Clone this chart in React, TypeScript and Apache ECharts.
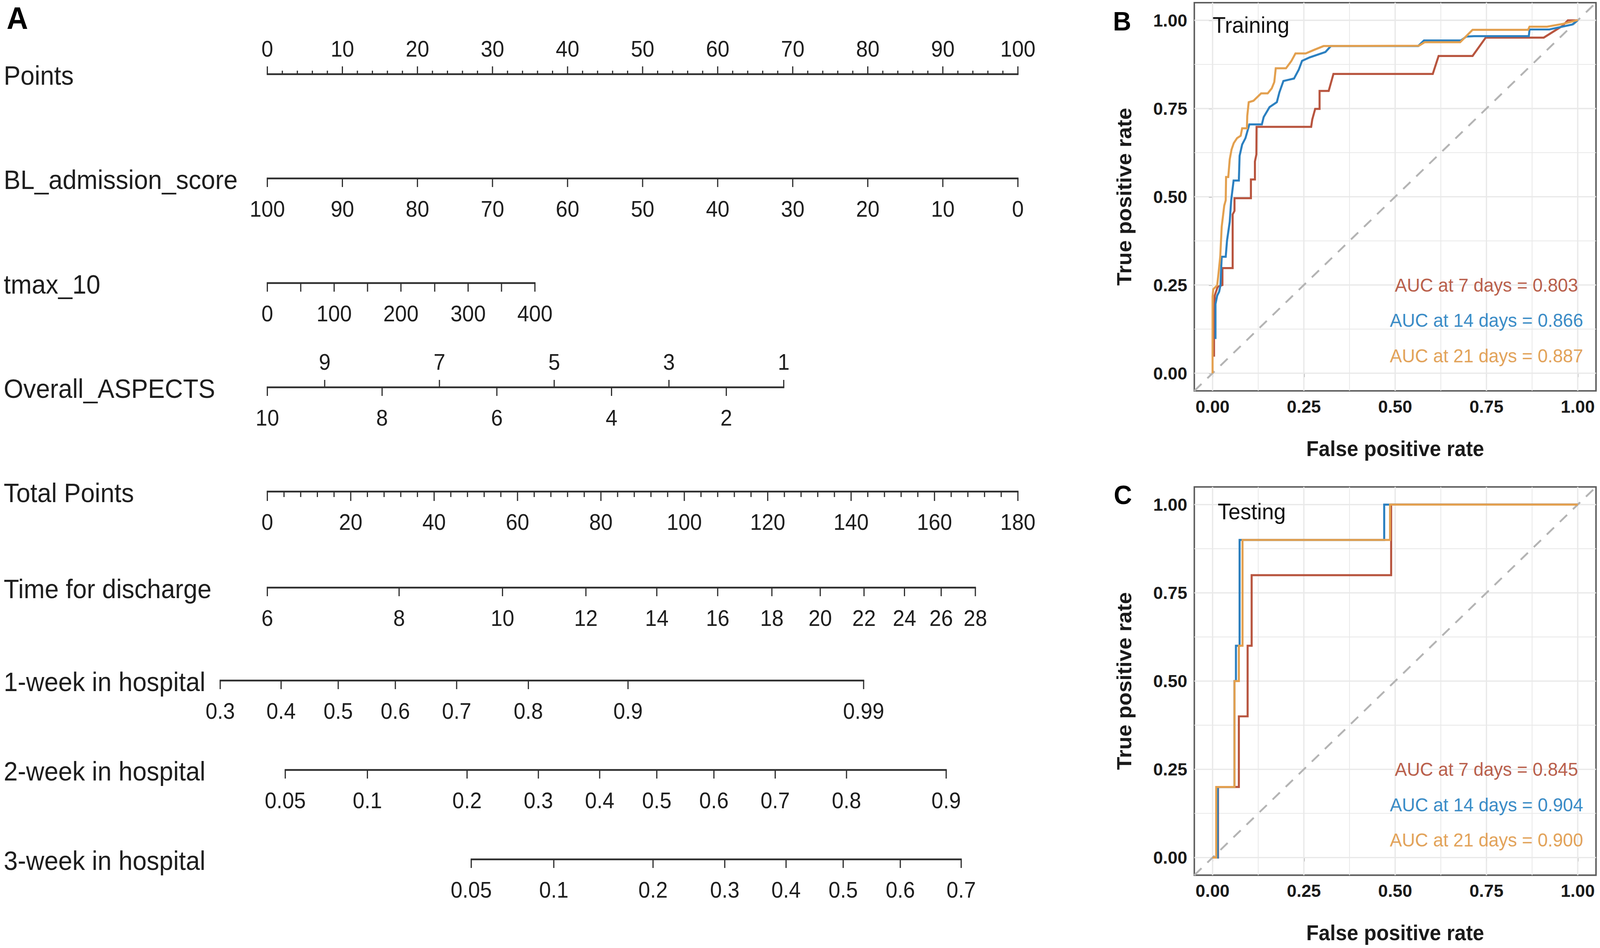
import React, { useEffect, useRef } from "react";
import * as echarts from "echarts";

// ---------------- Nomogram data ----------------
const POINTS_LABELS = [0, 10, 20, 30, 40, 50, 60, 70, 80, 90, 100];
const POINTS_MINOR_STEP = 2;

const BL_VALUES = [100, 90, 80, 70, 60, 50, 40, 30, 20, 10, 0];
const BL_POINTS = [0, 10, 20, 30, 40, 50, 60, 70, 80, 90, 100];

const TMAX_VALUES = [0, 50, 100, 150, 200, 250, 300, 350, 400];
const TMAX_LABELED = [0, 100, 200, 300, 400];
const TMAX_POINTS = [0, 4.45, 8.9, 13.35, 17.8, 22.3, 26.75, 31.2, 35.65];

const ASPECTS_VALUES = [10, 9, 8, 7, 6, 5, 4, 3, 2, 1];
const ASPECTS_POINTS = [0, 7.64, 15.29, 22.93, 30.58, 38.22, 45.86, 53.51, 61.15, 68.8];

const TOTAL_LABELS = [0, 20, 40, 60, 80, 100, 120, 140, 160, 180];
const TOTAL_MINOR_STEP = 4;

const DISCHARGE_VALUES = [6, 8, 10, 12, 14, 16, 18, 20, 22, 24, 26, 28];
const DISCHARGE_TOTAL = [0, 31.6, 56.4, 76.4, 93.4, 108.0, 121.0, 132.6, 143.1, 152.8, 161.6, 169.8];

const WEEK1_LABELS = ["0.3", "0.4", "0.5", "0.6", "0.7", "0.8", "0.9", "0.99"];
const WEEK1_TOTAL = [-11.3, 3.3, 17.0, 30.7, 45.4, 62.6, 86.5, 143.0];

const WEEK2_LABELS = ["0.05", "0.1", "0.2", "0.3", "0.4", "0.5", "0.6", "0.7", "0.8", "0.9"];
const WEEK2_TOTAL = [4.3, 24.0, 47.9, 65.0, 79.7, 93.4, 107.1, 121.8, 138.9, 162.8];

const WEEK3_LABELS = ["0.05", "0.1", "0.2", "0.3", "0.4", "0.5", "0.6", "0.7"];
const WEEK3_TOTAL = [48.9, 68.7, 92.5, 109.7, 124.4, 138.1, 151.8, 166.4];

// ---------------- ROC data ----------------
const ROC_TICKS = [0, 0.25, 0.5, 0.75, 1];
const ROC_MINOR = [0.125, 0.375, 0.625, 0.875];
const DAYS = [7, 14, 21];
const AUC_TRAIN = [0.803, 0.866, 0.887];
const AUC_TEST = [0.845, 0.904, 0.9];
const AUC_LABEL_X = 0.75;
const AUC_LABEL_Y = [0.25, 0.15, 0.05];

const TRAIN_7 = [
  [0.004, 0.047], [0.004, 0.15], [0.006, 0.22], [0.014, 0.245], [0.027, 0.25], [0.027, 0.298],
  [0.055, 0.298], [0.055, 0.45], [0.06, 0.46], [0.06, 0.496], [0.105, 0.496], [0.105, 0.549],
  [0.116, 0.549], [0.116, 0.6], [0.12, 0.62], [0.1205, 0.698], [0.27, 0.698], [0.273, 0.719],
  [0.281, 0.749], [0.293, 0.749], [0.293, 0.8], [0.318, 0.8], [0.331, 0.848], [0.603, 0.848],
  [0.619, 0.899], [0.712, 0.899], [0.748, 0.951], [0.907, 0.951], [0.958, 0.984], [0.973, 1.0], [1.0, 1.0],
];
const TRAIN_14 = [
  [0.008, 0.097], [0.008, 0.196], [0.0126, 0.22], [0.018, 0.231], [0.0216, 0.249], [0.025, 0.33],
  [0.036, 0.33], [0.0396, 0.376], [0.047, 0.429], [0.051, 0.49], [0.0576, 0.546], [0.072, 0.546],
  [0.074, 0.616], [0.081, 0.648], [0.09, 0.666], [0.1007, 0.705], [0.135, 0.705], [0.14, 0.726],
  [0.156, 0.754], [0.176, 0.768], [0.183, 0.796], [0.194, 0.828], [0.223, 0.835], [0.236, 0.86],
  [0.245, 0.885], [0.266, 0.895], [0.309, 0.91], [0.324, 0.927], [0.563, 0.927], [0.579, 0.943],
  [0.68, 0.943], [0.695, 0.954], [0.716, 0.955], [0.866, 0.955], [0.868, 0.974], [0.922, 0.974],
  [0.985, 0.988], [1.0, 1.0],
];
const TRAIN_21 = [
  [0, 0], [0, 0.217], [0.002, 0.238], [0.0126, 0.249], [0.016, 0.28], [0.021, 0.33], [0.025, 0.415],
  [0.032, 0.475], [0.036, 0.49], [0.037, 0.556], [0.043, 0.556], [0.047, 0.606], [0.052, 0.634],
  [0.058, 0.652], [0.067, 0.666], [0.077, 0.673], [0.081, 0.694], [0.094, 0.694], [0.095, 0.729],
  [0.099, 0.768], [0.112, 0.772], [0.133, 0.793], [0.151, 0.793], [0.162, 0.807], [0.169, 0.825],
  [0.173, 0.864], [0.201, 0.864], [0.216, 0.885], [0.227, 0.906], [0.255, 0.906], [0.28, 0.917],
  [0.304, 0.927], [0.565, 0.928], [0.581, 0.938], [0.678, 0.938], [0.712, 0.973], [0.864, 0.973],
  [0.868, 0.982], [0.916, 0.982], [0.96, 0.99], [0.997, 1.0], [1.0, 1.0],
];
const TEST_7 = [
  [0, 0], [0.015, 0], [0.015, 0.2], [0.072, 0.2], [0.072, 0.4], [0.096, 0.4], [0.096, 0.6],
  [0.107, 0.6], [0.107, 0.8], [0.489, 0.8], [0.489, 1.0], [1.0, 1.0],
];
const TEST_14 = [
  [0, 0], [0.014, 0], [0.014, 0.2], [0.06, 0.2], [0.06, 0.5], [0.064, 0.5], [0.064, 0.6],
  [0.074, 0.6], [0.074, 0.9], [0.47, 0.9], [0.47, 1.0], [1.0, 1.0],
];
const TEST_21 = [
  [0, 0], [0.01, 0], [0.01, 0.2], [0.06, 0.2], [0.06, 0.5], [0.072, 0.5], [0.072, 0.6],
  [0.082, 0.6], [0.082, 0.9], [0.486, 0.9], [0.486, 1.0], [1.0, 1.0],
];

// ---------------- Layout and styles (in reference pixels, scaled to the viewport) ----------------
const W = 4317;
const H = 2428;
let SX = 1;
let SY = 1;
const sx = (v: number) => v * SX;
const sy = (v: number) => v * SY;
const sf = (v: number) => v * SX; // stroke widths and axis-label fonts
const tf = (v: number) => v * SY; // font size of free texts (width then squeezed by KX)
const KX = () => SX / SY;

const FONT = '"Liberation Sans", Arial, Helvetica, sans-serif';
const INK = "#1e1e1e";
const AXIS_INK = "#2e2e2e";
const CURVE_COLORS = ["#B8553F", "#2C80C0", "#E3A04F"];
const TEXT_COLORS = ["#B9604C", "#3B8CC6", "#E2A35A"];

const NOMO_LEFT = 721.3;
const NOMO_WIDTH = 2025.1;
const ROW_Y: Record<string, number> = {
  points: 190, bl: 457, tmax: 725, aspects: 992, total: 1259,
  discharge: 1505, week1: 1743, week2: 1972, week3: 2201,
};
const LABEL_ABOVE = -64;
const LABEL_BELOW = 79;
const NOMO_TICK_FONT = 57;
const NOMO_NAME_FONT = 68;

const ROC_MIN = -0.05;
const ROC_MAX = 1.05;
const ROC_LEFT = 3222.4;
const ROC_WIDTH = 1083.8;
const ROC_B_TOP = 6.8;
const ROC_C_TOP = 1247.2;
const ROC_HEIGHT = 994.3;

type Tick = { pos: number; label: string; dir: number; len: number; side: number };
type Row = { key: string; name: string; axis: number; ticks: Tick[] };

function buildRows(): Row[] {
  const rows: Row[] = [];
  const pt: Tick[] = [];
  const pMax = POINTS_LABELS[POINTS_LABELS.length - 1];
  for (let v = POINTS_LABELS[0]; v <= pMax + 1e-9; v += POINTS_MINOR_STEP) {
    const major = POINTS_LABELS.indexOf(v) >= 0;
    pt.push({ pos: v, label: major ? String(v) : "", dir: -1, len: major ? 20 : 9, side: -1 });
  }
  rows.push({ key: "points", name: "Points", axis: 0, ticks: pt });
  rows.push({
    key: "bl", name: "BL_admission_score", axis: 0,
    ticks: BL_VALUES.map((v, i) => ({ pos: BL_POINTS[i], label: String(v), dir: 1, len: 22, side: 1 })),
  });
  rows.push({
    key: "tmax", name: "tmax_10", axis: 0,
    ticks: TMAX_VALUES.map((v, i) => ({
      pos: TMAX_POINTS[i], label: TMAX_LABELED.indexOf(v) >= 0 ? String(v) : "", dir: 1, len: 22, side: 1,
    })),
  });
  rows.push({
    key: "aspects", name: "Overall_ASPECTS", axis: 0,
    ticks: ASPECTS_VALUES.map((v, i) => {
      const odd = v % 2 === 1;
      return { pos: ASPECTS_POINTS[i], label: String(v), dir: odd ? -1 : 1, len: odd ? 19 : 22, side: odd ? -1 : 1 };
    }),
  });
  const tt: Tick[] = [];
  const tMax = TOTAL_LABELS[TOTAL_LABELS.length - 1];
  for (let v = TOTAL_LABELS[0]; v <= tMax + 1e-9; v += TOTAL_MINOR_STEP) {
    const major = TOTAL_LABELS.indexOf(v) >= 0;
    tt.push({ pos: v, label: major ? String(v) : "", dir: 1, len: major ? 24 : 14, side: 1 });
  }
  rows.push({ key: "total", name: "Total Points", axis: 1, ticks: tt });
  rows.push({
    key: "discharge", name: "Time for discharge", axis: 1,
    ticks: DISCHARGE_VALUES.map((v, i) => ({ pos: DISCHARGE_TOTAL[i], label: String(v), dir: 1, len: 22, side: 1 })),
  });
  rows.push({
    key: "week1", name: "1-week in hospital", axis: 1,
    ticks: WEEK1_LABELS.map((l, i) => ({ pos: WEEK1_TOTAL[i], label: l, dir: 1, len: 22, side: 1 })),
  });
  rows.push({
    key: "week2", name: "2-week in hospital", axis: 1,
    ticks: WEEK2_LABELS.map((l, i) => ({ pos: WEEK2_TOTAL[i], label: l, dir: 1, len: 22, side: 1 })),
  });
  rows.push({
    key: "week3", name: "3-week in hospital", axis: 1,
    ticks: WEEK3_LABELS.map((l, i) => ({ pos: WEEK3_TOTAL[i], label: l, dir: 1, len: 22, side: 1 })),
  });
  return rows;
}

function rowSeries(row: Row) {
  const positions = row.ticks.map((t) => t.pos);
  const lo = Math.min(...positions);
  const hi = Math.max(...positions);
  const y = sy(ROW_Y[row.key]);
  return {
    type: "custom",
    xAxisIndex: row.axis,
    yAxisIndex: 0,
    clip: false,
    silent: true,
    data: row.ticks.map((t) => [t.pos, 0]),
    renderItem: (params: any, api: any) => {
      const t = row.ticks[params.dataIndex];
      const x = api.coord([api.value(0), 0])[0];
      const children: any[] = [
        {
          type: "line",
          shape: { x1: x, y1: y, x2: x, y2: y + t.dir * sy(t.len) },
          style: { stroke: AXIS_INK, lineWidth: sf(3.2) },
        },
      ];
      if (t.label) {
        children.push({
          type: "text",
          x,
          y: y + sy(t.side < 0 ? LABEL_ABOVE : LABEL_BELOW),
          scaleX: KX(),
          style: {
            text: t.label, fill: INK, fontSize: tf(NOMO_TICK_FONT), fontFamily: FONT,
            align: "center", verticalAlign: "middle",
          },
        });
      }
      if (params.dataIndex === 0) {
        const xa = api.coord([lo, 0])[0];
        const xb = api.coord([hi, 0])[0];
        children.push({
          type: "line",
          shape: { x1: xa - sf(1.6), y1: y, x2: xb + sf(1.6), y2: y },
          style: { stroke: AXIS_INK, lineWidth: sf(4.5) },
        });
      }
      return { type: "group", children };
    },
  };
}

function rocAxes(gridIndex: number, isX: boolean) {
  return {
    type: "value",
    gridIndex,
    min: ROC_MIN,
    max: ROC_MAX,
    axisLine: { show: false },
    axisTick: {
      show: true, customValues: ROC_TICKS, length: isX ? sy(10) : sx(10),
      lineStyle: { color: AXIS_INK, width: sf(3) },
    },
    axisLabel: {
      show: true,
      customValues: ROC_TICKS,
      formatter: (v: number) => v.toFixed(2),
      fontSize: Math.sqrt(SX * SY) * 46,
      fontWeight: "bold",
      fontFamily: FONT,
      color: "#1a1a1a",
      margin: isX ? sy(17) : sx(19),
    },
    splitLine: { show: false },
    minorTick: { show: false },
    minorSplitLine: { show: false },
  };
}

function gridSeries(xi: number, yi: number) {
  const items = [...ROC_TICKS.map((v) => [v, 1]), ...ROC_MINOR.map((v) => [v, 0])];
  return {
    type: "custom",
    xAxisIndex: xi,
    yAxisIndex: yi,
    silent: true,
    z: 1,
    data: items,
    renderItem: (params: any, api: any) => {
      const v = api.value(0);
      const major = api.value(1) === 1;
      const a = api.coord([v, ROC_MIN]);
      const b = api.coord([v, ROC_MAX]);
      const c = api.coord([ROC_MIN, v]);
      const d = api.coord([ROC_MAX, v]);
      const style = { stroke: "#e9e9e9", lineWidth: sf(major ? 3.5 : 2.2) };
      return {
        type: "group",
        children: [
          { type: "line", shape: { x1: a[0], y1: a[1], x2: b[0], y2: b[1] }, style },
          { type: "line", shape: { x1: c[0], y1: c[1], x2: d[0], y2: d[1] }, style },
        ],
      };
    },
  };
}

function annotationSeries(xi: number, yi: number, aucs: number[], title: string, titlePos: number[]) {
  const labels = aucs.map((a, i) => `AUC at ${DAYS[i]} days = ${a.toFixed(3)}`);
  const data = [...AUC_LABEL_Y.map((y) => [AUC_LABEL_X, y]), titlePos];
  return {
    type: "custom",
    xAxisIndex: xi,
    yAxisIndex: yi,
    silent: true,
    clip: false,
    z: 6,
    data,
    renderItem: (params: any, api: any) => {
      const p = api.coord([api.value(0), api.value(1)]);
      const i = params.dataIndex;
      if (i < labels.length) {
        return {
          type: "text",
          x: p[0],
          y: p[1],
          scaleX: KX(),
          style: {
            text: labels[i], fill: TEXT_COLORS[i], fontSize: tf(49), fontFamily: FONT,
            align: "center", verticalAlign: "middle",
          },
        };
      }
      return {
        type: "text",
        x: p[0],
        y: p[1],
        scaleX: KX(),
        style: { text: title, fill: "#111111", fontSize: tf(58), fontFamily: FONT, align: "left", verticalAlign: "middle" },
      };
    },
  };
}

function curveSeries(xi: number, yi: number, data: number[][], color: string, z: number) {
  return {
    type: "line",
    xAxisIndex: xi,
    yAxisIndex: yi,
    data,
    symbol: "none",
    showSymbol: false,
    silent: true,
    z,
    lineStyle: { color, width: sf(5.5), cap: "butt", join: "miter" },
  };
}

function diagSeries(xi: number, yi: number) {
  return {
    type: "line",
    xAxisIndex: xi,
    yAxisIndex: yi,
    data: [[ROC_MIN, ROC_MIN], [ROC_MAX, ROC_MAX]],
    symbol: "none",
    silent: true,
    z: 2,
    lineStyle: { color: "#b4b4b4", width: sf(5), type: [sf(27), sf(22)] },
  };
}

function buildOption() {
  const rows = buildRows();
  const rowNames = rows.map((r) => ({
    type: "text",
    x: sx(10),
    y: sy(ROW_Y[r.key] + 3),
    scaleX: KX(),
    style: {
      text: r.name, fill: INK, fontSize: tf(NOMO_NAME_FONT), fontFamily: FONT,
      align: "left", verticalAlign: "middle",
    },
  }));
  const letters = [
    { t: "A", x: 18, y: 46, s: 80 },
    { t: "B", x: 3003, y: 54, s: 68 },
    { t: "C", x: 3005, y: 1267, s: 68 },
  ].map((l) => ({
    type: "text",
    x: sx(l.x),
    y: sy(l.y),
    scaleX: KX(),
    style: {
      text: l.t, fill: "#000", fontSize: tf(l.s), fontWeight: "bold", fontFamily: FONT,
      align: "left", verticalAlign: "middle",
    },
  }));
  const axisTitles: any[] = [];
  [ROC_B_TOP, ROC_C_TOP].forEach((top) => {
    axisTitles.push({
      type: "text",
      x: sx(ROC_LEFT + ROC_WIDTH / 2),
      y: sy(top + ROC_HEIGHT + 147),
      scaleX: KX(),
      style: {
        text: "False positive rate", fill: "#1a1a1a", fontSize: tf(55), fontWeight: "bold", fontFamily: FONT,
        align: "center", verticalAlign: "middle",
      },
    });
    axisTitles.push({
      type: "text",
      x: sx(3033),
      y: sy(top + ROC_HEIGHT / 2),
      rotation: Math.PI / 2,
      scaleY: KX(),
      style: {
        text: "True positive rate", fill: "#1a1a1a", fontSize: tf(55), fontWeight: "bold", fontFamily: FONT,
        align: "center", verticalAlign: "middle",
      },
    });
  });

  const gridStyle = { show: true, borderColor: "#5a5a5a", borderWidth: sf(4), backgroundColor: "#ffffff" };

  return {
    animation: false,
    backgroundColor: "#ffffff",
    grid: [
      { left: sx(NOMO_LEFT), top: 0, width: sx(NOMO_WIDTH), height: sy(H), show: false },
      { left: sx(ROC_LEFT), top: sy(ROC_B_TOP), width: sx(ROC_WIDTH), height: sy(ROC_HEIGHT), ...gridStyle },
      { left: sx(ROC_LEFT), top: sy(ROC_C_TOP), width: sx(ROC_WIDTH), height: sy(ROC_HEIGHT), ...gridStyle },
    ],
    xAxis: [
      { type: "value", gridIndex: 0, min: POINTS_LABELS[0], max: POINTS_LABELS[POINTS_LABELS.length - 1], show: false },
      { type: "value", gridIndex: 0, min: TOTAL_LABELS[0], max: TOTAL_LABELS[TOTAL_LABELS.length - 1], show: false },
      rocAxes(1, true),
      rocAxes(2, true),
    ],
    yAxis: [
      { type: "value", gridIndex: 0, min: 0, max: 1, show: false },
      rocAxes(1, false),
      rocAxes(2, false),
    ],
    graphic: { elements: [...rowNames, ...letters, ...axisTitles] },
    series: [
      ...rows.map(rowSeries),
      gridSeries(2, 1),
      gridSeries(3, 2),
      diagSeries(2, 1),
      diagSeries(3, 2),
      curveSeries(2, 1, TRAIN_7, CURVE_COLORS[0], 3),
      curveSeries(2, 1, TRAIN_14, CURVE_COLORS[1], 4),
      curveSeries(2, 1, TRAIN_21, CURVE_COLORS[2], 5),
      curveSeries(3, 2, TEST_7, CURVE_COLORS[0], 3),
      curveSeries(3, 2, TEST_14, CURVE_COLORS[1], 4),
      curveSeries(3, 2, TEST_21, CURVE_COLORS[2], 5),
      annotationSeries(2, 1, AUC_TRAIN, "Training", [0.0, 0.987]),
      annotationSeries(3, 2, AUC_TEST, "Testing", [0.014, 0.98]),
    ],
  };
}

export default function App() {
  const ref = useRef<HTMLDivElement>(null);
  useEffect(() => {
    if (!ref.current) return;
    const vw = window.innerWidth || W;
    const vh = window.innerHeight || H;
    SX = vw / W;
    SY = vh / H;
    ref.current.style.width = vw + "px";
    ref.current.style.height = vh + "px";
    const chart = echarts.init(ref.current, undefined, { renderer: "svg", width: vw, height: vh });
    chart.setOption(buildOption() as any);
    return () => chart.dispose();
  }, []);
  return (
    <div
      ref={ref}
      style={{ position: "fixed", left: 0, top: 0, width: "100vw", height: "100vh", background: "#ffffff", overflow: "hidden" }}
    />
  );
}
